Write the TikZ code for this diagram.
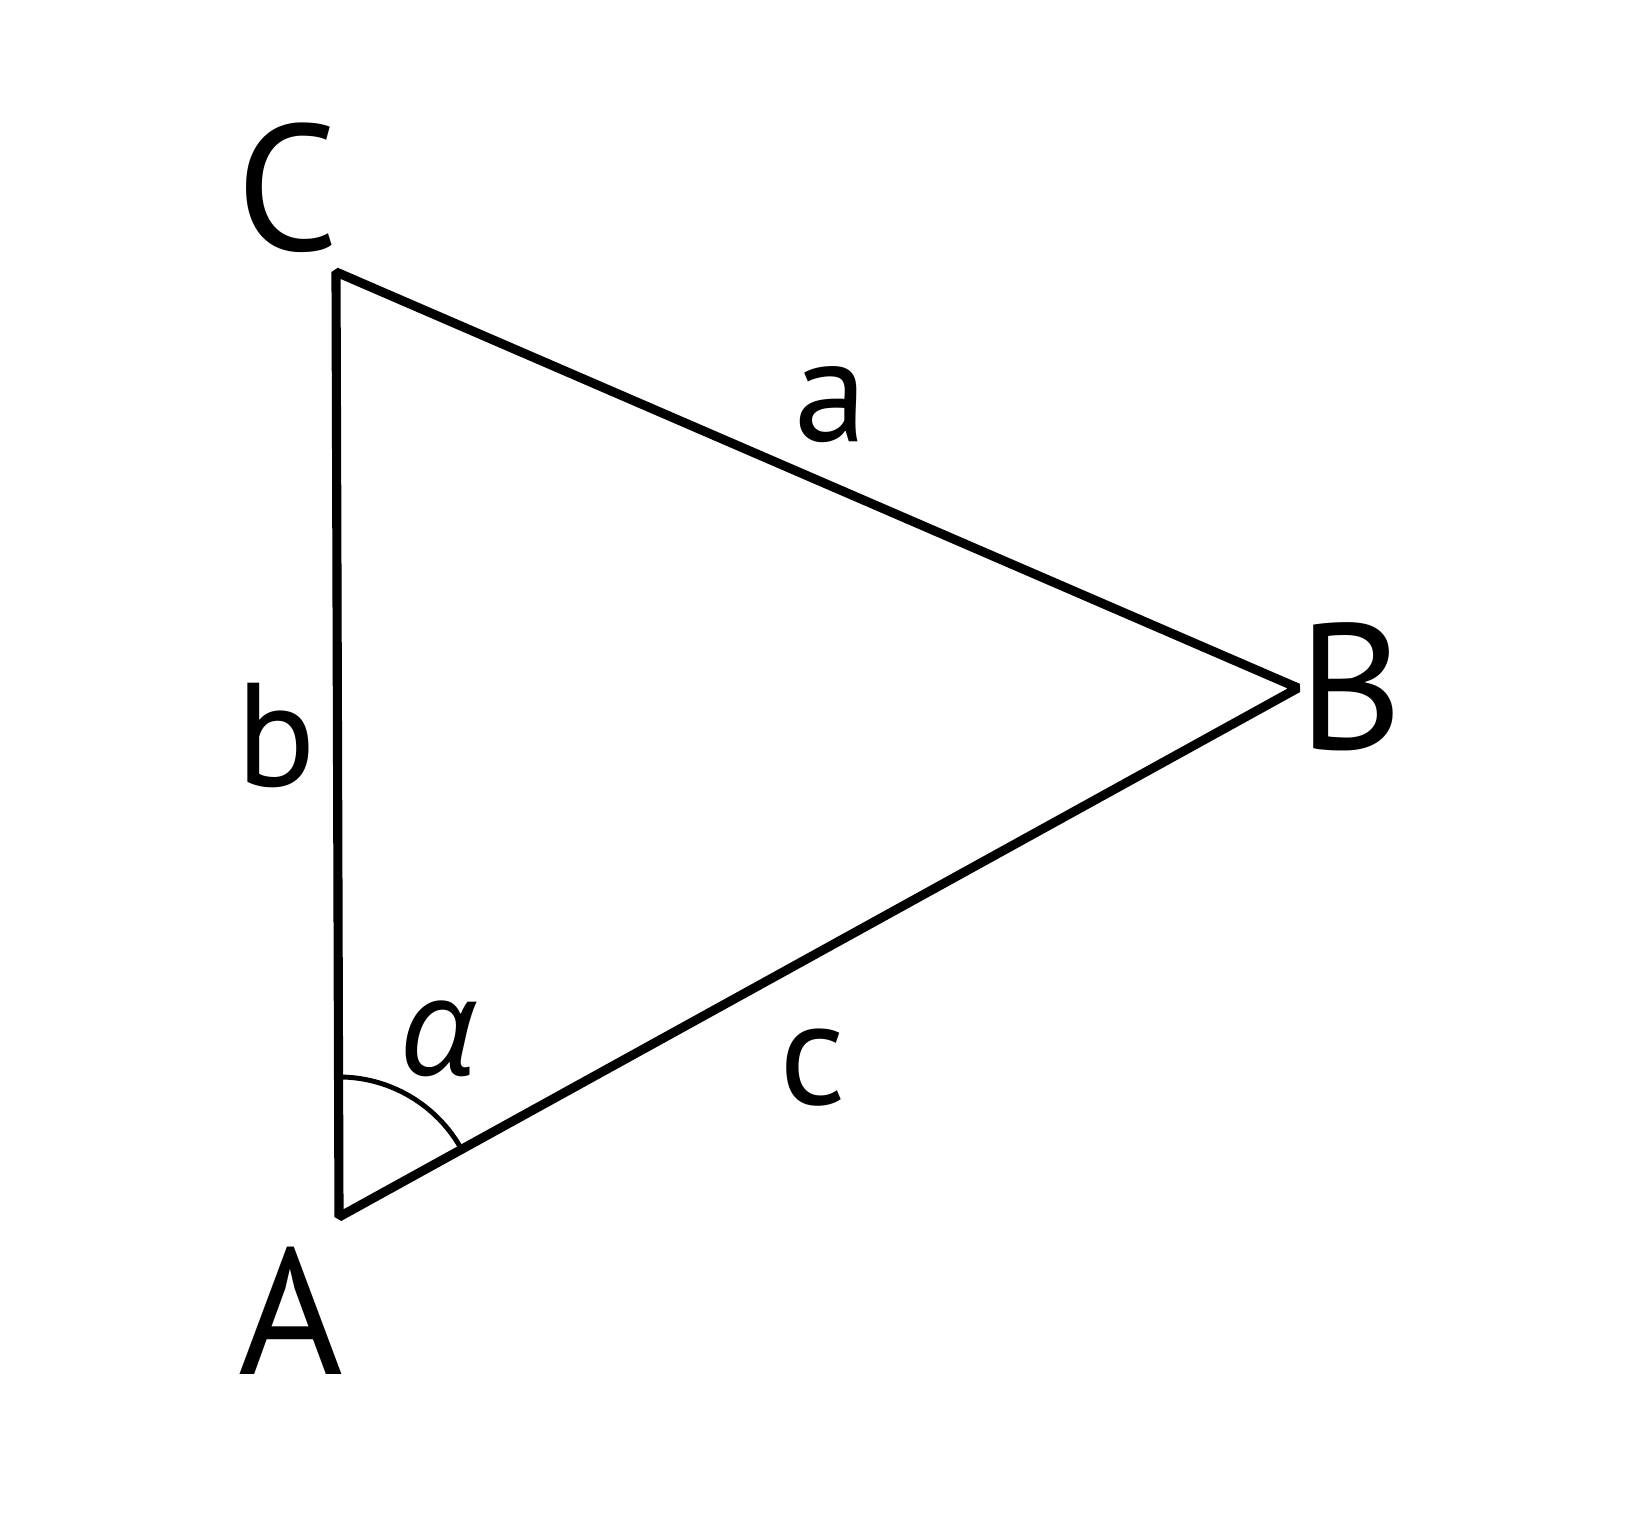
\documentclass[tikz,border=0pt]{standalone}
\usepackage{fontspec}
\setmainfont{PT Sans}
\newfontfamily\greekfont{Open Sans}
\usepackage{tikz}
\usetikzlibrary{positioning}
\tikzset{
    vlabel/.style = {inner sep=0pt, font=\fontsize{51}{60}\selectfont},
    slabel/.style = {inner sep=0pt, font=\fontsize{42}{50}\selectfont},
    alabel/.style = {inner sep=0pt, font=\greekfont\itshape\fontsize{39}{46}\selectfont},
    side/.style = {line width=2.6pt, line join=bevel},
    angarc/.style = {line width=1.4pt}
}
\begin{document}
\begin{tikzpicture}
\useasboundingbox (0,0) rectangle (16.34,15.34);
\coordinate (a0) at (3.39,3.17);
\coordinate (c0) at (3.36,12.62);
\coordinate (b0) at (12.98,8.46);
%
\draw[side] (a0) -- (c0) -- (b0) -- cycle;
\draw[angarc] (a0) ++(90:1.40) arc[start angle=90, end angle=28.9, radius=1.40];
%
\node[vlabel] at (2.88,13.46) (c) {C};
\node[vlabel] at (2.91,2.23) (a) {A};
\node[vlabel] at (13.51,8.47) (b) {B};
%
\node[slabel] at (8.31,11.29) (sa) {a};
\node[slabel] at (2.76,7.98) (sb) {b};
\node[slabel] at (8.13,4.66) (sc) {c};
\node[alabel] at (4.38,4.95) (alpha) {α};
\end{tikzpicture}
\end{document}
